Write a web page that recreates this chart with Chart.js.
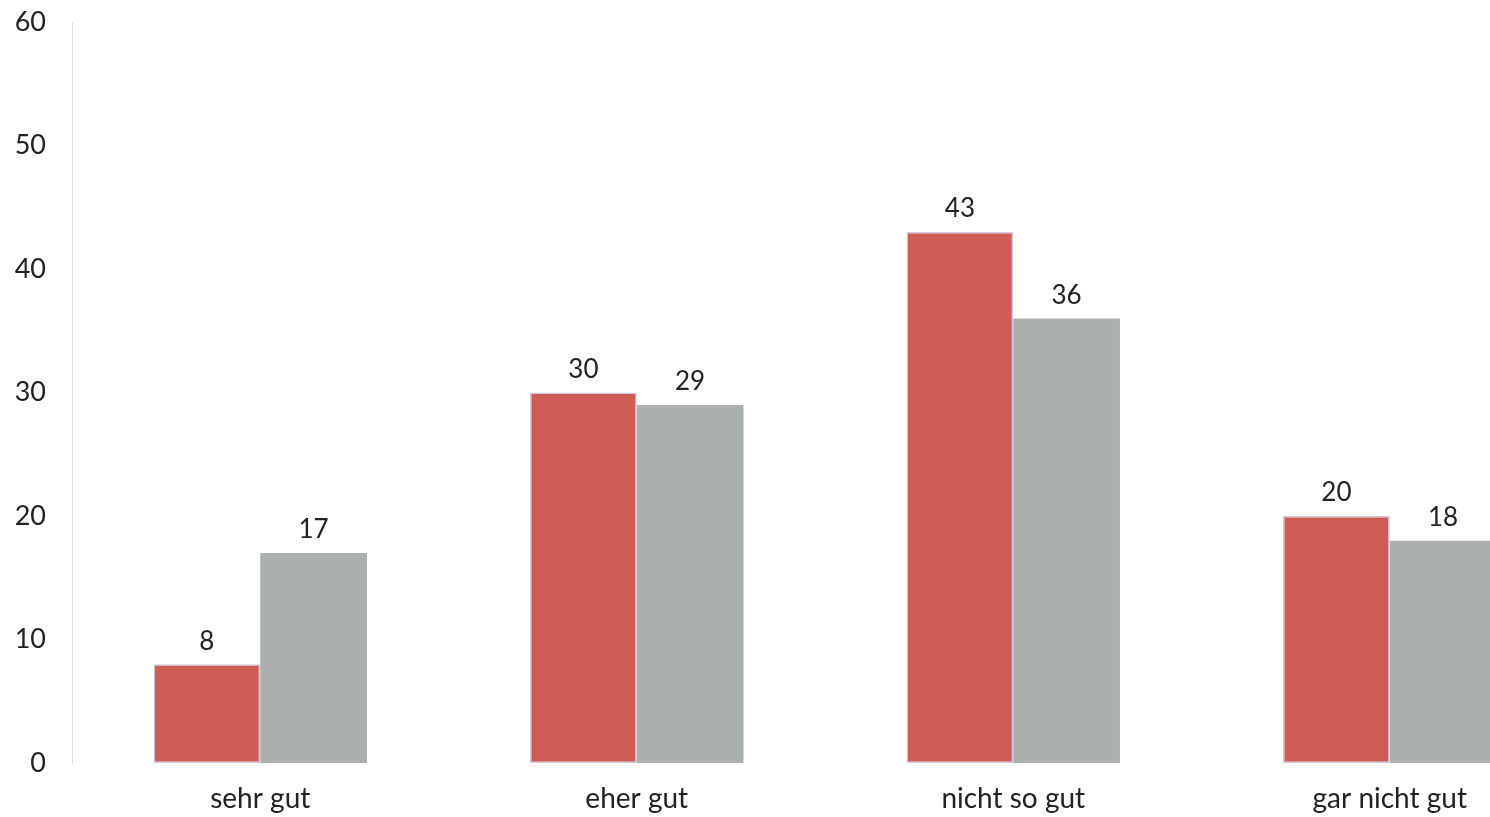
<!DOCTYPE html>
<html>
<head>
<meta charset="utf-8">
<script src="https://cdn.jsdelivr.net/npm/chart.js@4"></script>
<style>
  html, body { margin: 0; padding: 0; background: #fff; overflow: hidden; }
  #umfrageChart { display: block; margin-top: -20px; }
</style>
</head>
<body>
<canvas id="umfrageChart" width="1580" height="837"></canvas>
<script>
const kategorien = ["sehr gut", "eher gut", "nicht so gut", "gar nicht gut"];
const werteRot = [8, 30, 43, 20];
const werteGrau = [17, 29, 36, 18];
const yTicks = [0, 10, 20, 30, 40, 50, 60];

const schrift = "Lato, 'Noto Sans', sans-serif";

// Werte über den Balken schreiben
const wertBeschriftung = {
    id: "wertBeschriftung",
    afterDatasetsDraw(chart) {
        const ctx = chart.ctx;
        ctx.save();
        ctx.font = "26px " + schrift;
        ctx.fillStyle = "#222";
        ctx.textAlign = "center";
        ctx.textBaseline = "bottom";
        chart.data.datasets.forEach((ds, i) => {
            chart.getDatasetMeta(i).data.forEach((bar, j) => {
                ctx.fillText(ds.data[j], bar.x, bar.y - 10);
            });
        });
        ctx.restore();
    },
};

new Chart(document.getElementById("umfrageChart"), {
    type: "bar",
    data: {
        labels: kategorien,
        datasets: [
            {
                data: werteRot,
                backgroundColor: "#cf5b55",
                borderColor: "#cfc8dc",
                borderWidth: 1.5,
                borderSkipped: false,
            },
            {
                data: werteGrau,
                backgroundColor: "#a9b0ae",
                borderWidth: 0,
            },
        ],
    },
    options: {
        responsive: false,
        animation: false,
        layout: { padding: { top: 0, right: 2, left: 0, bottom: 0 } },
        datasets: {
            bar: { categoryPercentage: 0.567, barPercentage: 1 },
        },
        scales: {
            x: {
                grid: { display: false, drawTicks: false },
                border: { display: false },
                ticks: {
                    color: "#222",
                    padding: 19,
                    font: { family: schrift, size: 28 },
                },
                afterFit(scale) {
                    scale.height = 54;
                },
            },
            y: {
                min: 0,
                max: 60,
                afterBuildTicks(scale) {
                    scale.ticks = yTicks.map((v) => ({ value: v }));
                },
                grid: { display: false, drawTicks: false },
                border: { display: true, color: "#dcdcdc", width: 1 },
                ticks: {
                    color: "#222",
                    padding: 26,
                    font: { family: schrift, size: 27 },
                },
                afterFit(scale) {
                    scale.width = 72;
                },
            },
        },
        plugins: {
            legend: { display: false },
            tooltip: { enabled: false },
        },
    },
    plugins: [wertBeschriftung],
});
</script>
</body>
</html>
